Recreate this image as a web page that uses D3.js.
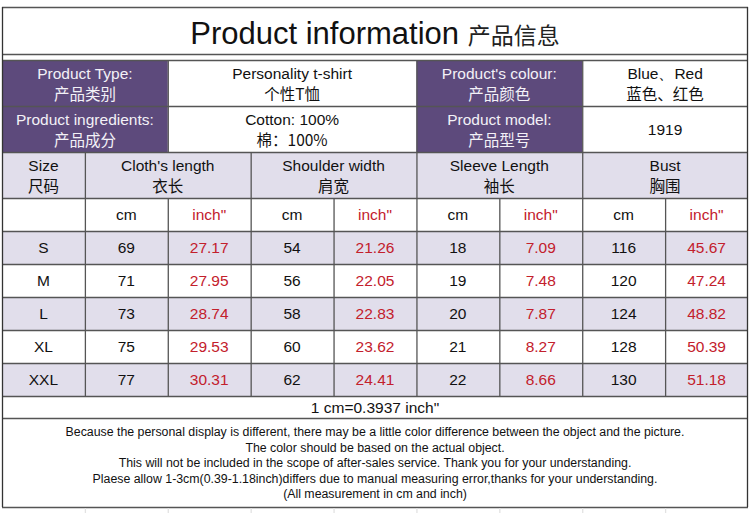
<!DOCTYPE html>
<html>
<head>
<meta charset="utf-8">
<script src="https://cdn.jsdelivr.net/npm/d3@7"></script>
<style>
  body { margin: 0; background: #fff; }
  svg { display: block; }
</style>
</head>
<body>
<script>
// Table contents
const titleEn = "Product information";
const titleCn = "产品信息";

const infoLabels = [["Product Type:", "产品类别"], ["Product ingredients:", "产品成分"]];
const infoValues = [["Personality t-shirt", "个性T恤"], ["Cotton: 100%", "棉：100%"]];
const infoLabels2 = [["Product's colour:", "产品颜色"], ["Product model:", "产品型号"]];
const infoValues2 = [["Blue、Red", "蓝色、红色"], ["1919"]];

const measureNames = ["Cloth's length", "Shoulder width", "Sleeve Length", "Bust"];
const measureNamesCn = ["衣长", "肩宽", "袖长", "胸围"];

const sizes = ["S", "M", "L", "XL", "XXL"];
const clothCm = [69, 71, 73, 75, 77];
const clothInch = ["27.17", "27.95", "28.74", "29.53", "30.31"];
const shoulderCm = [54, 56, 58, 60, 62];
const shoulderInch = ["21.26", "22.05", "22.83", "23.62", "24.41"];
const sleeveCm = [18, 19, 20, 21, 22];
const sleeveInch = ["7.09", "7.48", "7.87", "8.27", "8.66"];
const bustCm = [116, 120, 124, 128, 130];
const bustInch = ["45.67", "47.24", "48.82", "50.39", "51.18"];

const conversion = "1 cm=0.3937 inch\"";
const notes = [
  "Because the personal display is different, there may be a little color difference between the object and the picture.",
  "The color should be based on the actual object.",
  "This will not be included in the scope of after-sales service. Thank you for your understanding.",
  "Plaese allow 1-3cm(0.39-1.18inch)differs due to manual measuring error,thanks for your understanding.",
  "(All measurement in cm and inch)"
];

// Layout
const width = 750, height = 513;
const left = 2, right = 748;
const rowY = { top: 7, titleBottom: 54, infoTop: 60, info2: 106, head: 152, unit: 198, data: 231, conv: 396, notes: 418, bottom: 507 };

const purple = "#5d4a7c";
const lavender = "#e1deeb";
const red = "#c3202c";
const lineColor = "#555";
const enFont = "'Liberation Sans', Arial, sans-serif";
const cnFont = "'Noto Sans CJK SC', sans-serif";

const svg = d3.select("body").append("svg")
  .attr("width", width)
  .attr("height", height);

// 9 equal columns
const x = d3.scaleBand().domain(d3.range(9)).range([left, right]);
const cw = x.bandwidth();
const y = d3.scaleBand().domain(sizes).range([rowY.data, rowY.conv]);

// one or two line text in a cell
function cellText(cx, top, h, lines, color) {
  const g = svg.append("g");
  if (lines.length === 1) {
    g.append("text").attr("x", cx).attr("y", top + h / 2 + 5.5)
      .attr("text-anchor", "middle").attr("font-family", enFont)
      .attr("font-size", 15.5).attr("fill", color).text(lines[0]);
  } else {
    g.append("text").attr("x", cx).attr("y", top + h / 2 - 4)
      .attr("text-anchor", "middle").attr("font-family", enFont)
      .attr("font-size", 15.5).attr("fill", color).text(lines[0]);
    g.append("text").attr("x", cx).attr("y", top + h / 2 + 17)
      .attr("text-anchor", "middle").attr("font-family", cnFont)
      .attr("font-size", 15.5).attr("fill", color).text(lines[1]);
  }
}

// Backgrounds
svg.append("rect").attr("x", left).attr("y", rowY.infoTop)
  .attr("width", x(2) - left).attr("height", rowY.head - rowY.infoTop).attr("fill", purple);
svg.append("rect").attr("x", x(5)).attr("y", rowY.infoTop)
  .attr("width", x(7) - x(5)).attr("height", rowY.head - rowY.infoTop).attr("fill", purple);
svg.append("rect").attr("x", left).attr("y", rowY.head)
  .attr("width", right - left).attr("height", rowY.unit - rowY.head).attr("fill", lavender);

svg.selectAll("rect.band")
  .data(sizes.filter((d, i) => i % 2 === 0))
  .enter().append("rect")
  .attr("class", "band")
  .attr("x", left).attr("y", d => y(d))
  .attr("width", right - left).attr("height", y.bandwidth())
  .attr("fill", lavender);

// Title
const title = svg.append("text")
  .attr("x", 375).attr("y", 44)
  .attr("text-anchor", "middle");
title.append("tspan").attr("font-family", enFont).attr("font-size", 31).attr("fill", "#111").text(titleEn + " ");
title.append("tspan").attr("font-family", cnFont).attr("font-size", 23).attr("fill", "#222").text(titleCn);

// Info rows
const infoRows = [rowY.infoTop, rowY.info2];
infoRows.forEach((top, i) => {
  const h = (i === 0 ? rowY.info2 : rowY.head) - top;
  cellText((left + x(2)) / 2, top, h, infoLabels[i], "#f3f1f7");
  cellText((x(2) + x(5)) / 2, top, h, infoValues[i], "#111");
  cellText((x(5) + x(7)) / 2, top, h, infoLabels2[i], "#f3f1f7");
  cellText((x(7) + right) / 2, top, h, infoValues2[i], "#111");
});

// Header row
cellText(x(0) + cw / 2, rowY.head, rowY.unit - rowY.head, ["Size", "尺码"], "#111");
measureNames.forEach((m, i) => {
  cellText(x(1 + i * 2) + cw, rowY.head, rowY.unit - rowY.head, [m, measureNamesCn[i]], "#111");
});

// Unit row
measureNames.forEach((m, i) => {
  cellText(x(1 + i * 2) + cw / 2, rowY.unit, rowY.data - rowY.unit, ["cm"], "#111");
  cellText(x(2 + i * 2) + cw / 2, rowY.unit, rowY.data - rowY.unit, ["inch\""], red);
});

// Data rows
const cmCols = [clothCm, shoulderCm, sleeveCm, bustCm];
const inchCols = [clothInch, shoulderInch, sleeveInch, bustInch];
sizes.forEach((s, r) => {
  cellText(x(0) + cw / 2, y(s), y.bandwidth(), [s], "#111");
  cmCols.forEach((col, i) => {
    cellText(x(1 + i * 2) + cw / 2, y(s), y.bandwidth(), [String(col[r])], "#111");
    cellText(x(2 + i * 2) + cw / 2, y(s), y.bandwidth(), [inchCols[i][r]], red);
  });
});

// Conversion + notes
svg.append("text").attr("x", 375).attr("y", rowY.conv + 16.5)
  .attr("text-anchor", "middle").attr("font-family", enFont)
  .attr("font-size", 15.5).attr("fill", "#111").text(conversion);

// the notes use a condensed face: squeeze Liberation Sans horizontally
svg.append("g")
  .attr("transform", "translate(375,0) scale(0.915,1)")
  .selectAll("text.note")
  .data(notes)
  .enter().append("text")
  .attr("class", "note")
  .attr("x", 0)
  .attr("y", (d, i) => 436.5 + i * 15.5)
  .attr("text-anchor", "middle")
  .attr("font-family", enFont)
  .attr("font-size", 13.5)
  .attr("fill", "#111")
  .text(d => d);

// Grid lines
const hLines = [rowY.top, rowY.titleBottom, rowY.infoTop, rowY.info2, rowY.head, rowY.unit,
  ...sizes.map(s => y(s)), rowY.conv, rowY.notes, rowY.bottom];
svg.selectAll("line.h")
  .data(hLines)
  .enter().append("line")
  .attr("class", "h")
  .attr("x1", left).attr("x2", right)
  .attr("y1", d => d + 0.5).attr("y2", d => d + 0.5)
  .attr("stroke", lineColor).attr("stroke-width", 1.3);

function vLine(xp, y1, y2, color) {
  svg.append("line")
    .attr("x1", xp + 0.5).attr("x2", xp + 0.5)
    .attr("y1", y1).attr("y2", y2)
    .attr("stroke", color || lineColor).attr("stroke-width", 1.3);
}

// outer borders
vLine(left, rowY.top, rowY.bottom, "#333");
vLine(right - 1, rowY.top, rowY.bottom, "#333");
// info rows
[x(2), x(5), x(7)].forEach(xp => vLine(xp, rowY.infoTop, rowY.head));
// header row
[x(1), x(3), x(5), x(7)].forEach(xp => vLine(xp, rowY.head, rowY.unit));
// unit + data rows
d3.range(1, 9).forEach(i => vLine(x(i), rowY.unit, rowY.conv));
// faint sheet grid below table
d3.range(1, 9).forEach(i => vLine(x(i), rowY.bottom + 1, height, "#e2e2e2"));
</script>
</body>
</html>
